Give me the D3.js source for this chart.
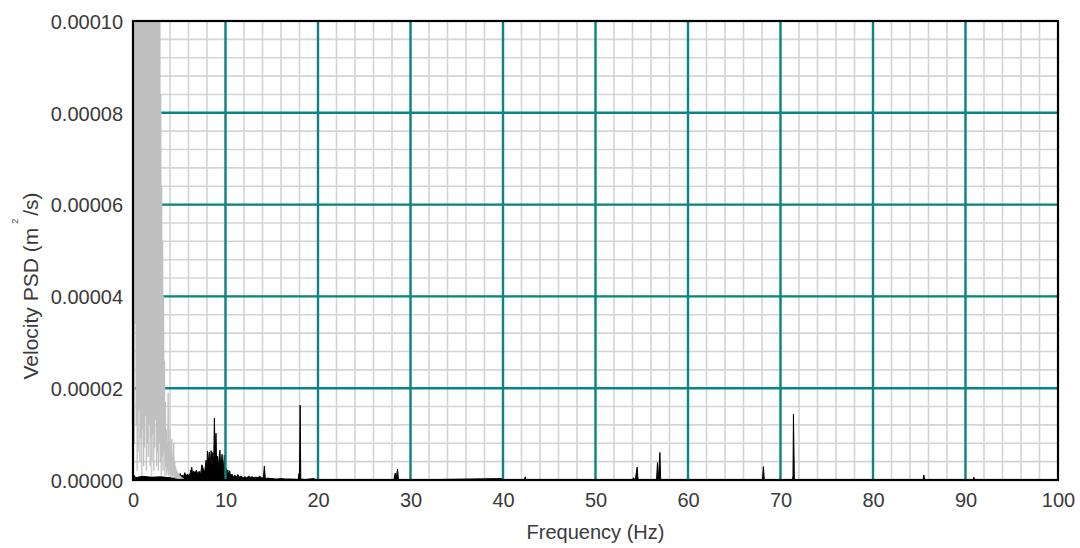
<!DOCTYPE html>
<html>
<head>
<meta charset="utf-8">
<script src="https://cdn.jsdelivr.net/npm/d3@7"></script>
<style>
  body { margin: 0; background: #fff; }
  svg { display: block; font-family: 'Liberation Sans', Arial, sans-serif; }
</style>
</head>
<body>
<svg id="chart" width="1080" height="548"></svg>
<script>
// tick labels
const xTicks = [0, 10, 20, 30, 40, 50, 60, 70, 80, 90, 100];
const yTicks = [0, 20, 40, 60, 80, 100]; // x 1e-6
const yTickLabels = ['0.00000', '0.00002', '0.00004', '0.00006', '0.00008', '0.00010'];

// grey series (x 1e-6 m2/s2), clipped at the top
const grayFreq = [
  0.00, 0.05, 0.10, 0.15, 0.20, 0.25, 0.30, 0.35, 0.40, 0.45,
  0.50, 0.55, 0.60, 0.65, 0.70, 0.75, 0.80, 0.85, 0.90, 0.95,
  1.00, 1.05, 1.10, 1.15, 1.20, 1.25, 1.30, 1.35, 1.40, 1.45,
  1.50, 1.55, 1.60, 1.65, 1.70, 1.75, 1.80, 1.85, 1.90, 1.95,
  2.00, 2.05, 2.10, 2.15, 2.20, 2.25, 2.30, 2.35, 2.40, 2.45,
  2.50, 2.55, 2.60, 2.65, 2.70, 2.75, 2.80, 2.85, 2.90, 2.95,
  3.00, 3.05, 3.10, 3.15, 3.20, 3.25, 3.30, 3.35, 3.40, 3.45,
  3.50, 3.55, 3.60, 3.65, 3.70, 3.75, 3.80, 3.85, 3.90, 3.95,
  4.00, 4.05, 4.10, 4.15, 4.20, 4.25, 4.30, 4.35, 4.40, 4.45,
  4.50, 4.55, 4.60, 4.65, 4.70, 4.75, 4.80, 4.85, 4.90, 4.95,
  5.00, 5.05, 5.10, 5.15, 5.20, 5.25, 5.30, 5.35, 5.40, 5.45, 5.50
];
const grayPsd = [
  45, 3, 210, 8, 320, 34, 180, 12, 260, 2,
  150, 6, 380, 15, 230, 4, 170, 9, 290, 1,
  200, 11, 140, 3, 310, 7, 190, 14, 250, 2,
  160, 8, 220, 5, 330, 12, 175, 3, 240, 9,
  145, 4, 280, 10, 165, 2, 210, 7, 130, 13,
  185, 3, 150, 6, 120, 2, 135, 8, 112, 4,
  84, 1, 64, 5, 52, 2, 40, 6, 26, 1,
  17, 3, 11, 1, 8, 2, 19, 1, 7, 2,
  11, 1, 6, 1, 9, 0.5, 5, 1, 8, 0.5,
  4, 0.5, 3, 0.3, 2.2, 0.3, 1.8, 0.2, 1.4, 0.2,
  1.2, 0.2, 0.9, 0.1, 0.7, 0.1, 0.5, 0.1, 0.3, 0.1, 0.1
];

// black series (x 1e-6 m2/s2)
const blackFreq = [
  0.00, 0.04, 0.3, 1.0, 2.0, 3.0, 4.0, 4.6, 4.8, 4.95,
  5.1, 5.2, 5.3, 5.45, 5.6, 5.75, 5.9, 6.05, 6.2, 6.35,
  6.45, 6.55, 6.7, 6.85, 7.0, 7.15, 7.3, 7.45, 7.6, 7.75,
  7.9, 8.0, 8.05, 8.15, 8.25, 8.35, 8.45, 8.55, 8.62, 8.72,
  8.8, 8.88, 8.97, 9.05, 9.12, 9.2, 9.3, 9.4, 9.48, 9.55,
  9.63, 9.72, 9.8, 9.88, 9.97, 10.05, 10.15, 10.25, 10.35, 10.45,
  10.55, 10.7, 10.85, 11.0, 11.15, 11.33, 11.5, 11.7, 11.9, 12.1,
  12.3, 12.5, 12.7, 12.9, 13.1, 13.3, 13.5, 13.7, 13.9, 14.1,
  14.2, 14.3, 14.6, 15.0, 15.5, 16.0, 16.5, 17.0, 17.5, 17.85,
  17.95, 18.0, 18.07, 18.14, 18.6, 19.5, 20.0, 28.2, 28.35, 28.45,
  28.6, 28.7, 40.0, 40.1, 42.3, 42.4, 42.5, 54.0, 54.1, 54.3,
  54.5, 54.6, 56.6, 56.7, 56.8, 56.96, 57.05, 68.05, 68.15, 68.25,
  71.3, 71.35, 71.4, 71.5, 85.4, 85.5, 85.6, 90.8, 90.9, 91.0, 100
];
const blackPsd = [
  6.3, 1.2, 0.5, 0.8, 0.6, 0.7, 0.5, 0.4, 1.0, 0.5,
  1.4, 0.6, 1.1, 0.7, 1.6, 0.9, 1.3, 0.8, 1.6, 2.8,
  1.2, 2.0, 1.5, 2.1, 1.3, 1.9, 1.2, 3.3, 2.4, 1.8,
  4.3, 2.5, 6.3, 4.0, 6.1, 3.2, 6.4, 2.8, 6.0, 3.5,
  13.5, 4.2, 10.2, 3.0, 5.2, 2.3, 4.8, 6.5, 2.6, 3.8,
  5.6, 2.2, 3.5, 5.4, 1.8, 2.6, 1.2, 2.2, 0.9, 2.0,
  0.8, 1.3, 0.6, 1.1, 0.5, 1.2, 0.6, 0.9, 0.4, 0.7,
  0.5, 0.8, 0.6, 0.7, 0.5, 0.6, 0.5, 0.8, 0.5, 0.4,
  3.0, 0.3, 0.4, 0.3, 0.2, 0.3, 0.2, 0.2, 0.15, 0.1,
  1.5, 1.2, 16.3, 0.2, 0.1, 0.3, 0, 0, 1.5, 0.3,
  2.4, 0, 0.3, 0, 0, 0.7, 0, 0, 0.5, 0,
  2.8, 0, 0, 3.8, 0, 6.0, 0, 0, 2.9, 0,
  0, 1.0, 14.3, 0, 0, 1.1, 0, 0, 0.6, 0, 0
];

const width = 1080;
const height = 548;
const margin = ({
  top: 21, right: 22, bottom: 68, left: 133
});
const textColor = '#3a3a3a';

const svg = d3.select('#chart');

const x = d3.scaleLinear()
  .domain([0, 100])
  .range([margin.left, width - margin.right]);

const y = d3.scaleLinear()
  .domain([0, 100])
  .range([height - margin.bottom, margin.top]);

svg.append('defs')
  .append('clipPath')
  .attr('id', 'plot-clip')
  .append('rect')
  .attr('x', margin.left)
  .attr('y', margin.top)
  .attr('width', x(100) - x(0))
  .attr('height', y(0) - y(100));

// minor grid
const grid = svg.append('g')
  .attr('stroke', '#d4d4d4')
  .attr('stroke-width', 1.6);

grid.selectAll('.vx')
  .data(d3.range(2, 100, 2))
  .join('line')
  .attr('class', 'vx')
  .attr('x1', d => x(d))
  .attr('x2', d => x(d))
  .attr('y1', y(0))
  .attr('y2', y(100));

grid.selectAll('.hy')
  .data(d3.range(4, 100, 4))
  .join('line')
  .attr('class', 'hy')
  .attr('x1', x(0))
  .attr('x2', x(100))
  .attr('y1', d => y(d))
  .attr('y2', d => y(d));

const line = d3.line()
  .x(d => x(d[0]))
  .y(d => y(d[1]));

const area = d3.area()
  .x(d => x(d[0]))
  .y0(y(0))
  .y1(d => y(d[1]));

// black series, drawn as thin filled spikes
svg.append('path')
  .datum(blackFreq.map((f, i) => [f, blackPsd[i]]))
  .attr('clip-path', 'url(#plot-clip)')
  .attr('fill', '#000')
  .attr('stroke', '#000')
  .attr('stroke-width', 1)
  .attr('d', area);

// major grid
const major = svg.append('g')
  .attr('stroke', '#0b8484')
  .attr('stroke-width', 2.4);

major.selectAll('.vx')
  .data(xTicks.slice(1, -1))
  .join('line')
  .attr('class', 'vx')
  .attr('x1', d => x(d))
  .attr('x2', d => x(d))
  .attr('y1', y(0))
  .attr('y2', y(100));

major.selectAll('.hy')
  .data(yTicks.slice(1, -1))
  .join('line')
  .attr('class', 'hy')
  .attr('x1', x(0))
  .attr('x2', x(100))
  .attr('y1', d => y(d))
  .attr('y2', d => y(d));

// grey series on top
svg.append('path')
  .datum(grayFreq.map((f, i) => [f, grayPsd[i]]))
  .attr('clip-path', 'url(#plot-clip)')
  .attr('fill', 'none')
  .attr('stroke', '#c0c0c0')
  .attr('stroke-width', 1.3)
  .attr('d', line);

// frame
svg.append('rect')
  .attr('x', x(0))
  .attr('y', y(100))
  .attr('width', x(100) - x(0))
  .attr('height', y(0) - y(100))
  .attr('fill', 'none')
  .attr('stroke', '#000')
  .attr('stroke-width', 2.2);

// axes
const xAxis = g => g
  .attr('transform', `translate(0,${y(0)})`)
  .call(d3.axisBottom(x).tickValues(xTicks).tickSize(0).tickPadding(13))
  .call(g => g.select('.domain').remove())
  .call(g => g.selectAll('text')
    .attr('fill', textColor)
    .attr('font-size', 20));

const yAxis = g => g
  .attr('transform', `translate(${x(0)},0)`)
  .call(d3.axisLeft(y).tickValues(yTicks).tickFormat((d, i) => yTickLabels[i]).tickSize(0).tickPadding(10))
  .call(g => g.select('.domain').remove())
  .call(g => g.selectAll('text')
    .attr('fill', textColor)
    .attr('font-size', 20)
    .attr('dy', '0.36em'));

svg.append('g')
  .call(xAxis)
  .attr('font-family', null);

svg.append('g')
  .call(yAxis)
  .attr('font-family', null);

svg.append('text')
  .attr('x', (x(0) + x(100)) / 2)
  .attr('y', 539)
  .attr('text-anchor', 'middle')
  .attr('fill', textColor)
  .attr('font-size', 20)
  .text('Frequency (Hz)');

const yTitle = svg.append('text')
  .attr('transform', 'translate(38,286) rotate(-90)')
  .attr('text-anchor', 'middle')
  .attr('fill', textColor)
  .attr('font-size', 21);

yTitle.append('tspan').text('Velocity PSD (m');
yTitle.append('tspan')
  .attr('font-size', 9)
  .attr('dx', 4)
  .attr('dy', -20)
  .text('2');
yTitle.append('tspan')
  .attr('dx', 3)
  .attr('dy', 20)
  .text('/s)');
</script>
</body>
</html>
